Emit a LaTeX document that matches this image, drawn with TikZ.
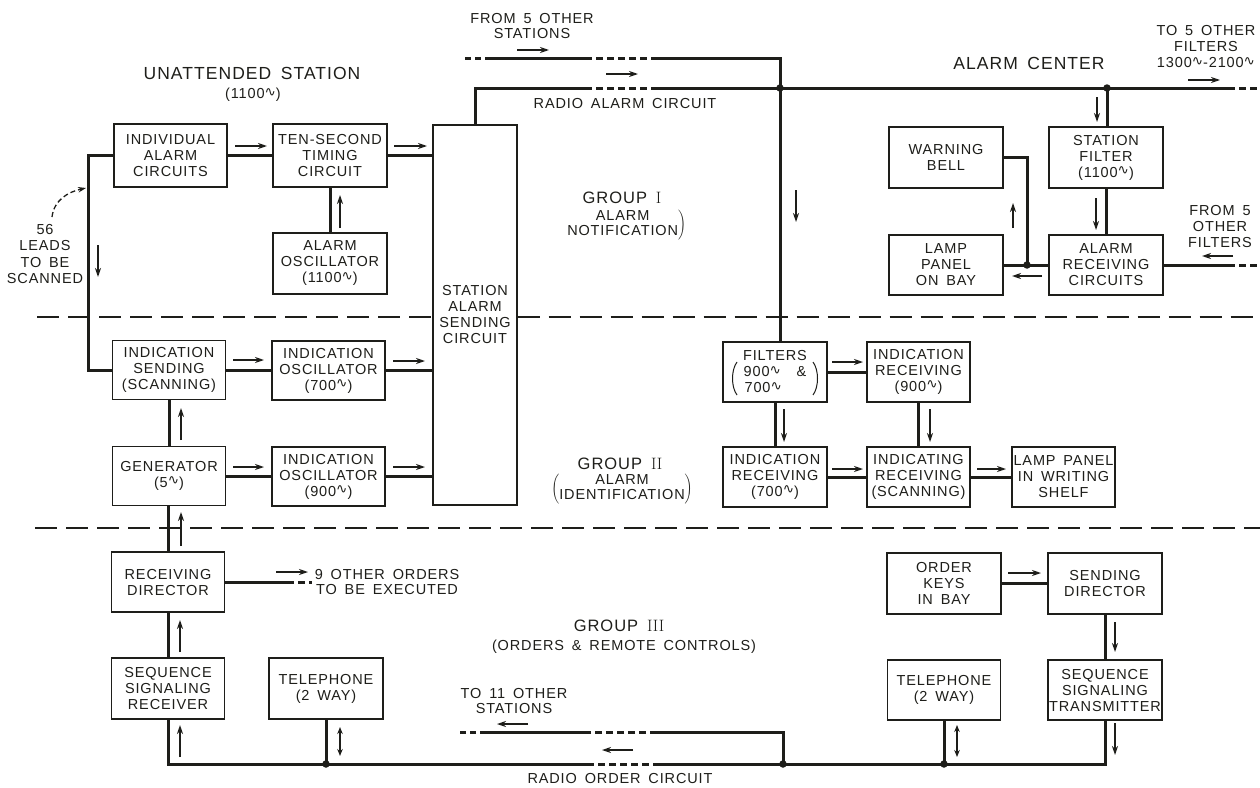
\documentclass[tikz,border=0pt]{standalone}
\usepackage{fontspec}
\usetikzlibrary{arrows.meta,calc}
\newfontfamily\lett[LetterSpace=6,WordSpace=1.6]{Liberation Sans}
\newfontfamily\djv{DejaVu Sans}
\newcommand{\cy}{\raisebox{0.35ex}{\djv\fontsize{13.5}{13.5}\selectfont ∿}}
\definecolor{ink}{RGB}{30,30,26}
\begin{document}
\begin{tikzpicture}[x=1pt,y=-1pt,
  blk/.style={draw=ink,line width=1.3pt,align=center,inner sep=0pt,font=\lett\fontsize{14.5}{16}\selectfont,text=ink},
  conn/.style={draw=ink,line width=3pt},
  dsh/.style={conn,dash pattern=on 7pt off 4pt},
  dshs/.style={conn,dash pattern=on 6pt off 4pt},
  flow/.style={draw=ink,line width=2.2pt,-{Stealth[length=9pt,width=6pt]}},
  flowb/.style={draw=ink,line width=2.2pt,{Stealth[length=7pt,width=5.5pt]}-{Stealth[length=7pt,width=5.5pt]}},
  sep/.style={draw=ink,line width=1.3pt,dash pattern=on 22pt off 9pt},
  lbl/.style={align=center,inner sep=0pt,text=ink,font=\lett\fontsize{14.5}{15}\selectfont},
  head/.style={lbl,font=\lett\fontsize{17.5}{20}\selectfont},
  grp/.style={lbl,font=\lett\fontsize{16.5}{19}\selectfont},
  paren/.style={draw=ink,line width=1pt},
  dot/.style={circle,fill=ink,inner sep=0pt,minimum size=7.5pt}
]
\fill[white] (0,0) rectangle (1260,787);
\useasboundingbox (0,0) rectangle (1260,787);

% ---------- boxes ----------
\node[blk,minimum width=113pt,minimum height=63pt] (ind) at (170.5,155.5) {INDIVIDUAL\\ALARM\\CIRCUITS};
\node[blk,minimum width=114pt,minimum height=63pt] (ten) at (330,155.5) {TEN-SECOND\\TIMING\\CIRCUIT};
\node[blk,minimum width=114pt,minimum height=61pt] (aosc) at (330,263.5) {ALARM\\OSCILLATOR\\(1100\cy)};
\node[blk,minimum width=84pt,minimum height=380pt] (sta) at (475,315) {STATION\\ALARM\\SENDING\\CIRCUIT};
\node[blk,minimum width=113pt,minimum height=59pt] (isend) at (169,370) {INDICATION\\SENDING\\(SCANNING)};
\node[blk,minimum width=113pt,minimum height=59pt] (iosc7) at (328.5,370.5) {INDICATION\\OSCILLATOR\\(700\cy)};
\node[blk,minimum width=113pt,minimum height=59pt] (gen) at (169,476) {GENERATOR\\(5\cy)};
\node[blk,minimum width=113pt,minimum height=59pt] (iosc9) at (328.5,476.5) {INDICATION\\OSCILLATOR\\(900\cy)};
\node[blk,minimum width=113pt,minimum height=60pt] (rdir) at (168,582) {RECEIVING\\DIRECTOR};
\node[blk,minimum width=113pt,minimum height=61pt] (ssrec) at (168,688.5) {SEQUENCE\\SIGNALING\\RECEIVER};
\node[blk,minimum width=114pt,minimum height=61pt] (tel1) at (326,688.5) {TELEPHONE\\(2 WAY)};

\node[blk,minimum width=114pt,minimum height=61pt] (wbell) at (946,157.5) {WARNING\\BELL};
\node[blk,minimum width=114pt,minimum height=61pt] (sfilt) at (1106,157.5) {STATION\\FILTER\\(1100\cy)};
\node[blk,minimum width=114pt,minimum height=60pt] (lamp) at (946,265) {LAMP\\PANEL\\ON BAY};
\node[blk,minimum width=114pt,minimum height=60pt] (arec) at (1106,265) {ALARM\\RECEIVING\\CIRCUITS};

\node[blk,minimum width=104pt,minimum height=60pt] (filt) at (775,372) {FILTERS\\900\cy\ \ \&\\700\cy\ \ \ \ };
\node[blk,minimum width=103pt,minimum height=60pt] (irec9) at (918.5,372) {INDICATION\\RECEIVING\\(900\cy)};
\node[blk,minimum width=104pt,minimum height=60pt] (irec7) at (775,477) {INDICATION\\RECEIVING\\(700\cy)};
\node[blk,minimum width=103pt,minimum height=60pt] (iscan) at (918.5,477) {INDICATING\\RECEIVING\\(SCANNING)};
\node[blk,minimum width=103pt,minimum height=60pt] (lampw) at (1063.5,477) {LAMP PANEL\\IN WRITING\\SHELF};

\node[blk,minimum width=114pt,minimum height=61pt] (okeys) at (944,583.5) {ORDER\\KEYS\\IN BAY};
\node[blk,minimum width=114pt,minimum height=61pt] (sdir) at (1105,583.5) {SENDING\\DIRECTOR};
\node[blk,minimum width=113pt,minimum height=60pt] (tel2) at (944,690) {TELEPHONE\\(2 WAY)};
\node[blk,minimum width=114pt,minimum height=60pt] (sstx) at (1105,690) {SEQUENCE\\SIGNALING\\TRANSMITTER};

% parentheses in the FILTERS box
\draw[paren] ($(filt.center)+(-38,-10)$) .. controls +(-6,8) and +(-6,-8) .. ($(filt.center)+(-38,23)$);
\draw[paren] ($(filt.center)+(38,-10)$) .. controls +(6,8) and +(6,-8) .. ($(filt.center)+(38,23)$);

% ---------- separators ----------
\coordinate (s1) at (37,317);
\draw[sep] (s1) -- (s1 -| sta.west);
\coordinate (s1e) at (1260,317);
\draw[sep] (s1 -| sta.east) -- (s1e);
\coordinate (s2) at (35,528);
\coordinate (s2e) at (1260,528);
\draw[sep] (s2) -- (s2e);

% ---------- radio alarm circuit ----------
\coordinate (jA) at (780,88);
\coordinate (jB) at (1107,88);
\coordinate (a1) at (585,88);
\coordinate (a2) at (657,88);
\coordinate (a3) at (1228,88);
\coordinate (a4) at (1260,88);
\draw[conn] (sta.north) |- (a1);
\draw[dsh] (a1) -- (a2);
\draw[conn] (a2) -- (jA) -- (jB) -- (a3);
\draw[dsh] (a3) -- (a4);
\coordinate (u0) at (465,58);
\coordinate (u1) at (488,58);
\coordinate (u2) at (585,58);
\coordinate (u3) at (657,58);
\coordinate (u4) at (780,58);
\draw[dshs] (u0) -- (u1);
\draw[conn] (u1) -- (u2);
\draw[dsh] (u2) -- (u3);
\draw[conn] (u3) -- (u4) -- (jA);
\draw[conn] (jA) -- (jA |- filt.north);
\draw[conn] (jB) -- (jB |- sfilt.north);
\draw[conn] (sfilt) -- (arec);
\coordinate (jC) at (1027,265);
\draw[conn] (arec.west) -- (lamp.east);
\draw[conn] (jC) |- (wbell.east);
\coordinate (r1) at (1228,265);
\coordinate (r2) at (1260,265);
\draw[conn] (arec.east) -- (r1);
\draw[dsh] (r1) -- (r2);

% ---------- unattended station ----------
\draw[conn] (ind.west) -- ++(-25,0) |- (isend.west);
\draw[conn] (ind) -- (ten);
\draw[conn] (ten.east) -- (ten.east -| sta.west);
\draw[conn] (aosc) -- (ten);
\draw[conn] (isend.east) -- (isend.east -| iosc7.west);
\draw[conn] (iosc7.east) -- (iosc7.east -| sta.west);
\draw[conn] (gen.north) -- (gen.north |- isend.south);
\draw[conn] (gen.east) -- (gen.east -| iosc9.west);
\draw[conn] (iosc9.east) -- (iosc9.east -| sta.west);
\draw[conn] (rdir.north) -- (rdir.north |- gen.south);
\coordinate (o1) at (287,582);
\coordinate (o2) at (312,582);
\draw[conn] (rdir.east) -- (o1);
\draw[dsh] (o1) -- (o2);
\draw[conn] (ssrec) -- (rdir);

% ---------- group II alarm center ----------
\draw[conn] (filt.east) -- (filt.east -| irec9.west);
\draw[conn] (filt) -- (irec7);
\draw[conn] (irec9) -- (iscan);
\draw[conn] (irec7) -- (iscan);
\draw[conn] (iscan) -- (lampw);

% ---------- radio order circuit ----------
\coordinate (jD) at (326,764);
\coordinate (b1) at (587,764);
\coordinate (b2) at (657,764);
\coordinate (jE) at (783,764);
\coordinate (jF) at (944,764);
\draw[conn] (ssrec.south) |- (jD);
\draw[conn] (jD) -- (b1);
\draw[dsh] (b1) -- (b2);
\draw[conn] (b2) -- (jE) -- (jF) -| (sstx.south);
\draw[conn] (tel1.south) -- (jD);
\draw[conn] (tel2.south) -- (jF);
\coordinate (v0) at (460,732);
\coordinate (v1) at (486,732);
\coordinate (v2) at (587,732);
\coordinate (v3) at (657,732);
\coordinate (v4) at (783,732);
\draw[conn] (jE) -- (v4) -- (v3);
\draw[dsh] (v3) -- (v2);
\draw[conn] (v2) -- (v1);
\draw[dshs] (v1) -- (v0);
\draw[conn] (okeys) -- (sdir);
\draw[conn] (sdir) -- (sstx);

% ---------- junction dots ----------
\node[dot] at (jA) {};
\node[dot] at (jB) {};
\node[dot] at (jC) {};
\node[dot] at (jD) {};
\node[dot] at (jE) {};
\node[dot] at (jF) {};

% ---------- flow arrows ----------
\draw[flow] (235,146) -- (267,146);
\draw[flow] (394,146) -- (427,146);
\draw[flow] (340,228) -- (340,195);
\draw[flow] (98,245) -- (98,277);
\draw[flow] (517,50) -- (549,50);
\draw[flow] (606,74) -- (638,74);
\draw[flow] (796,190) -- (796,222);
\draw[flow] (1188,80) -- (1220,80);
\draw[flow] (1097,97) -- (1097,122);
\draw[flow] (1096,198) -- (1096,230);
\draw[flow] (1013,228) -- (1013,203);
\draw[flow] (1042,276) -- (1012,276);
\draw[flow] (1233,256) -- (1202,256);
\draw[flow] (233,360) -- (264,360);
\draw[flow] (393,361) -- (425,361);
\draw[flow] (233,467) -- (264,467);
\draw[flow] (393,467) -- (425,467);
\draw[flow] (181,440) -- (181,408);
\draw[flow] (181,546) -- (181,512);
\draw[flow] (832,362) -- (863,362);
\draw[flow] (784,409) -- (784,442);
\draw[flow] (930,409) -- (930,442);
\draw[flow] (832,469) -- (863,469);
\draw[flow] (977,469) -- (1006,469);
\draw[flow] (276,572) -- (308,572);
\draw[flow] (180,652) -- (180,620);
\draw[flow] (180,757) -- (180,725);
\draw[flowb] (340,727) -- (340,756);
\draw[flow] (528,724) -- (497,724);
\draw[flow] (633,750) -- (602,750);
\draw[flow] (1008,573) -- (1041,573);
\draw[flow] (1115,622) -- (1115,652);
\draw[flow] (1115,723) -- (1115,755);
\draw[flowb] (957,725) -- (957,757);
\draw[ink,line width=1.3pt,dash pattern=on 5pt off 3pt,-{Stealth[length=8pt,width=5.5pt]}] (52,217) .. controls (54,200) and (68,192) .. (86,188);

% ---------- labels ----------
\node[head] (tUS) at (252,73) {UNATTENDED STATION};
\node[lbl] (tUS2) at (253,95) {(1100\cy)};
\node[lbl] (tFS) at (532,26) {FROM 5 OTHER\\STATIONS};
\node[lbl] (tRAC) at (625,104) {RADIO ALARM CIRCUIT};
\node[head] (tAC) at (1029,63) {ALARM CENTER};
\node[lbl,font=\lett\fontsize{14.5}{16}\selectfont] (tTO) at (1206,47) {TO 5 OTHER\\FILTERS\\1300\cy-2100\cy};
\node[lbl,font=\lett\fontsize{14.5}{16}\selectfont] (tFF) at (1220,227) {FROM 5\\OTHER\\FILTERS};
\node[lbl,font=\lett\fontsize{14.5}{16.3}\selectfont] (t56) at (45,254) {56\\LEADS\\TO BE\\SCANNED};
\node[grp] (g1) at (622,198) {GROUP {\normalfont I}};
\node[lbl,font=\lett\fontsize{14.5}{15.5}\selectfont] (g1b) at (626,225) {$\left.\begin{tabular}{@{}c@{}}ALARM\\NOTIFICATION\end{tabular}\right)$};
\node[grp] (g2) at (620,464) {GROUP {\normalfont II}};
\node[lbl,font=\lett\fontsize{14.5}{15.5}\selectfont] (g2b) at (622,489) {$\left(\begin{tabular}{@{}c@{}}ALARM\\IDENTIFICATION\end{tabular}\right)$};
\node[grp] (g3) at (619,626) {GROUP {\normalfont III}};
\node[lbl] (g3b) at (624,647) {(ORDERS \& REMOTE CONTROLS)};
\node[lbl] (t9) at (387,581.5) {9 OTHER ORDERS\\TO BE EXECUTED};
\node[lbl] (t11) at (514,701) {TO 11 OTHER\\STATIONS};
\node[lbl] (tROC) at (620,778) {RADIO ORDER CIRCUIT};
\end{tikzpicture}
\end{document}
